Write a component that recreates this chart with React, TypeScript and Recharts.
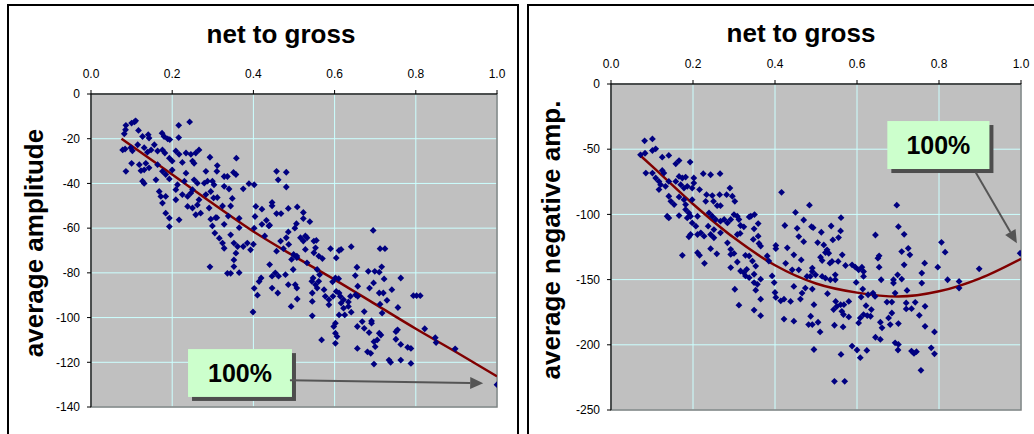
import { ComposedChart, Scatter, Line, XAxis, YAxis, CartesianGrid, ReferenceArea, ReferenceLine } from 'recharts';

// shared x ticks (net to gross)
const xTicks = [0, 0.2, 0.4, 0.6, 0.8, 1.0];
const ampTicks = [-140, -120, -100, -80, -60, -40, -20, 0];
const negTicks = [-250, -200, -150, -100, -50, 0];

// left panel: net to gross vs average amplitude
const ampPoints: [number, number][] = [
  [0.107, -12.5], [0.11, -12], [0.1, -13], [0.086, -14], [0.085, -16], [0.082, -17.8], [0.117, -16.3], [0.127, -19],
  [0.141, -18.2], [0.143, -19.7], [0.175, -17.5], [0.18, -19], [0.189, -20.1], [0.194, -20.4], [0.216, -14], [0.243, -12.5],
  [0.216, -19.5], [0.078, -25], [0.084, -24.6], [0.098, -24], [0.102, -25.4], [0.115, -22.7], [0.131, -24], [0.139, -26],
  [0.148, -25], [0.156, -22.7], [0.164, -25.5], [0.176, -25], [0.182, -26.4], [0.193, -28.7], [0.2, -30], [0.209, -25.5],
  [0.217, -27], [0.234, -26.4], [0.246, -27], [0.258, -26.4], [0.266, -25], [0.254, -31], [0.25, -30], [0.225, -30.6],
  [0.1, -31], [0.119, -31.6], [0.135, -31], [0.086, -34.6], [0.123, -34.3], [0.131, -33.9], [0.143, -33], [0.164, -31.6],
  [0.176, -34.6], [0.184, -36], [0.2, -34], [0.193, -38], [0.16, -38.4], [0.131, -40], [0.127, -39], [0.168, -43.6],
  [0.172, -45.8], [0.176, -48.8], [0.184, -45.8], [0.184, -53.3], [0.193, -55.5], [0.193, -59.3], [0.209, -42.8], [0.213, -40.6],
  [0.209, -47.3], [0.217, -56.3], [0.23, -39], [0.234, -35.4], [0.225, -45], [0.238, -45.8], [0.246, -44.3], [0.25, -42.8],
  [0.254, -38.4], [0.262, -39.9], [0.238, -50.3], [0.25, -51], [0.262, -49.6], [0.266, -47.3], [0.258, -54], [0.27, -53.3],
  [0.283, -34.6], [0.293, -28.3], [0.279, -39.9], [0.287, -39], [0.299, -39], [0.303, -40.6], [0.295, -43.6], [0.283, -45],
  [0.291, -51], [0.302, -46.5], [0.311, -32], [0.31, -34.6], [0.328, -36.9], [0.336, -36.9], [0.351, -35.1], [0.357, -36],
  [0.358, -28.7], [0.328, -41.3], [0.34, -42.5], [0.311, -46.3], [0.348, -46.7], [0.344, -50.1], [0.324, -50.1], [0.307, -55.3],
  [0.295, -56], [0.299, -59], [0.31, -55.3], [0.328, -58.3], [0.338, -54.6], [0.365, -55.6], [0.365, -59.8], [0.375, -42.4],
  [0.389, -40.1], [0.402, -40.6], [0.406, -50.3], [0.404, -54.8], [0.402, -60], [0.305, -62.2], [0.316, -64.5], [0.324, -66.7],
  [0.328, -69], [0.344, -63], [0.352, -66.7], [0.361, -68.2], [0.375, -68.2], [0.385, -66.7], [0.393, -69.7], [0.4, -67.2],
  [0.357, -71.2], [0.352, -74.2], [0.352, -77.2], [0.344, -80.2], [0.336, -80.2], [0.365, -79.9], [0.293, -77.3], [0.414, -83.9],
  [0.402, -86.9], [0.41, -90], [0.399, -97.5],
  [0.457, -34.6], [0.481, -35], [0.461, -38.4], [0.481, -41.6], [0.446, -48.5], [0.446, -50], [0.457, -53.5], [0.468, -53.5],
  [0.486, -51.2], [0.508, -50.5], [0.523, -53], [0.523, -55.7], [0.539, -57.1], [0.421, -51.5], [0.432, -56.5], [0.438, -59],
  [0.421, -58.3], [0.428, -63.5], [0.44, -58.7], [0.486, -61.7], [0.481, -64.3], [0.487, -67.3], [0.502, -60], [0.506, -58],
  [0.516, -64.3], [0.523, -65.8], [0.528, -63.5], [0.532, -64.3], [0.549, -65.8], [0.555, -65.5], [0.553, -68.8], [0.528, -69.5],
  [0.474, -69.2], [0.457, -70.3], [0.467, -65.8], [0.499, -71.8], [0.507, -72.5], [0.494, -74], [0.498, -78.5], [0.507, -73.2],
  [0.549, -71], [0.561, -72.5], [0.57, -73.6], [0.532, -75.5], [0.557, -78.5], [0.563, -80.8], [0.547, -82.3], [0.544, -83.8],
  [0.553, -85.3], [0.557, -86.8], [0.561, -83.8], [0.574, -87.5], [0.577, -90.5], [0.586, -94.3], [0.545, -89], [0.545, -92.8],
  [0.508, -91.7], [0.493, -95], [0.545, -99.2], [0.44, -76.3], [0.446, -81.5], [0.454, -80], [0.462, -81.5], [0.479, -80.8],
  [0.486, -85.3], [0.503, -85.3], [0.507, -86.8], [0.46, -89], [0.446, -86.8], [0.419, -82.3], [0.568, -110], [0.59, -69.2],
  [0.604, -73.3], [0.611, -70], [0.616, -69.5], [0.641, -68.3], [0.602, -82.3], [0.61, -82.6], [0.595, -84], [0.596, -90.5],
  [0.586, -92], [0.604, -88.3], [0.611, -89], [0.614, -90.5], [0.616, -93.5], [0.622, -92], [0.622, -95.8], [0.625, -98.8],
  [0.611, -98.8], [0.602, -102.5], [0.598, -104], [0.602, -107], [0.606, -108.5], [0.602, -111.5], [0.634, -93], [0.639, -90.5],
  [0.641, -97.6], [0.634, -95], [0.652, -89.8], [0.657, -90.5], [0.657, -86], [0.651, -81.2], [0.655, -77.5], [0.656, -104],
  [0.656, -113.8], [0.673, -97.3], [0.668, -101.8], [0.673, -104.8], [0.685, -106.7], [0.691, -101.5], [0.691, -102.5], [0.683, -79.3],
  [0.695, -61], [0.699, -79.3], [0.71, -79.7], [0.716, -77.3], [0.722, -82.7], [0.686, -86.8], [0.696, -84.5], [0.71, -89],
  [0.72, -89], [0.712, -94], [0.717, -98], [0.729, -92.3], [0.741, -87.5], [0.763, -82.3], [0.756, -95.5], [0.712, -69.2],
  [0.724, -69.2], [0.71, -107], [0.714, -107.8], [0.705, -110], [0.697, -110.8], [0.7, -113], [0.681, -115.3], [0.689, -116],
  [0.697, -120.8], [0.734, -119], [0.738, -120], [0.751, -106.3], [0.755, -105.5], [0.751, -109.7], [0.763, -112], [0.78, -113.3],
  [0.788, -113.8], [0.763, -119], [0.788, -120.5], [0.794, -90.2], [0.802, -90.2], [0.811, -90.2], [0.822, -105], [0.848, -109],
  [0.85, -111.2], [0.897, -114], [1.0, -130],
];
const ampTrendX = [0.075, 0.2, 0.3, 0.4, 0.5, 0.6, 0.7, 0.8, 0.9, 1.0];
const ampTrendY = [-20, -36, -49, -61.5, -72.5, -83, -94, -105, -115.5, -126.3];

// right panel: net to gross vs average negative amplitude
const negPoints: [number, number][] = [
  [0.082, -43.6], [0.101, -42.1], [0.083, -53.1], [0.072, -54.3], [0.101, -51], [0.109, -49.7], [0.125, -56.1], [0.141, -54.8],
  [0.085, -68.3], [0.101, -68.3], [0.109, -72.1], [0.125, -66.3], [0.129, -68.3], [0.117, -74.7], [0.121, -77.2], [0.117, -81],
  [0.133, -78.5], [0.141, -74.7], [0.158, -61.2], [0.166, -58.7], [0.193, -59.9], [0.158, -74.7], [0.166, -70.9], [0.174, -72.1],
  [0.182, -71.4], [0.17, -77.2], [0.178, -79.8], [0.186, -78.5], [0.202, -72.1], [0.202, -76], [0.198, -79.8], [0.216, -81],
  [0.225, -68.8], [0.243, -69.6], [0.266, -68.8], [0.141, -86.1], [0.146, -90], [0.154, -92.5], [0.166, -86.6], [0.178, -88.7],
  [0.182, -92.5], [0.198, -88.7], [0.182, -96.3], [0.19, -98.9], [0.137, -101.4], [0.141, -102.7], [0.166, -100.9], [0.186, -102.7],
  [0.194, -101.4], [0.211, -101.4], [0.198, -106.5], [0.207, -109], [0.194, -115.4], [0.19, -117.2], [0.211, -115.4], [0.219, -114.1],
  [0.227, -116.7], [0.233, -84.9], [0.231, -90], [0.247, -85.6], [0.25, -90], [0.259, -93.3], [0.265, -84.9], [0.267, -93.3],
  [0.239, -98.9], [0.247, -101.4], [0.255, -103.9], [0.243, -115.4], [0.251, -117.9], [0.237, -109], [0.267, -105.2], [0.276, -103.9],
  [0.284, -106.5], [0.292, -103.9], [0.282, -84.9], [0.29, -79.8], [0.296, -86.1], [0.302, -90], [0.3, -100.1], [0.308, -101.4],
  [0.312, -103.9], [0.316, -108.5], [0.324, -109.5], [0.308, -115.4], [0.315, -114.6], [0.267, -114.1], [0.251, -111.6], [0.284, -121.8],
  [0.292, -126.8], [0.243, -126.3], [0.258, -130.2], [0.174, -131.4], [0.211, -129.4], [0.216, -131.4], [0.228, -137.5], [0.292, -130.7],
  [0.3, -129.9], [0.308, -136.5], [0.292, -140.8], [0.328, -131.4], [0.337, -101.9], [0.341, -101.4], [0.35, -100.1], [0.349, -111.1],
  [0.359, -107], [0.347, -119.2], [0.359, -116.7], [0.361, -122.3], [0.365, -124.3], [0.337, -131.9], [0.345, -135.8], [0.353, -139.6],
  [0.349, -145.9], [0.316, -143.4], [0.324, -144.7], [0.328, -147.2], [0.337, -148.5], [0.331, -142.1], [0.349, -152.3], [0.357, -153.6],
  [0.365, -149.7], [0.353, -158.1], [0.302, -157.4], [0.365, -165], [0.312, -169.6], [0.349, -173.4], [0.365, -177.7], [0.381, -131.9],
  [0.385, -135.8], [0.393, -147.2], [0.398, -152.3], [0.402, -123.8], [0.402, -126.3], [0.416, -83.1], [0.424, -108.5], [0.43, -125.6],
  [0.426, -137.5], [0.4, -159.9], [0.402, -163.7], [0.414, -166.3], [0.422, -165], [0.422, -180.3],
  [0.484, -92.9], [0.45, -98.5], [0.454, -110.7], [0.458, -117], [0.47, -104.3], [0.47, -120.9], [0.489, -109.4], [0.493, -110.2],
  [0.513, -113.7], [0.537, -108.9], [0.561, -102.5], [0.56, -112.7], [0.555, -117.8], [0.541, -119.6], [0.504, -121.6], [0.519, -123.4],
  [0.527, -127.2], [0.523, -129.3], [0.531, -129.8], [0.511, -132.8], [0.515, -135.4], [0.564, -131], [0.554, -136.1], [0.572, -139.2],
  [0.539, -136.1], [0.534, -137.4], [0.446, -131], [0.464, -134.9], [0.442, -142.5], [0.458, -142.5], [0.491, -141.2], [0.491, -143.8],
  [0.499, -146.3], [0.486, -147.6], [0.478, -147.6], [0.515, -147.6], [0.523, -148.9], [0.535, -150.1], [0.547, -146.3], [0.547, -150.1],
  [0.446, -155.2], [0.474, -156.5], [0.466, -160.3], [0.491, -157.3], [0.462, -164.9], [0.438, -166.7], [0.495, -169.2], [0.528, -160.8],
  [0.548, -166.7], [0.551, -170.5], [0.56, -169.2], [0.563, -174.3], [0.567, -176.8], [0.58, -166.7], [0.568, -169.2], [0.543, -173],
  [0.487, -178.1], [0.505, -182.7], [0.482, -184.5], [0.491, -184.5], [0.51, -190.1], [0.545, -185], [0.566, -186.3], [0.58, -178.6],
  [0.446, -181.9], [0.495, -203.6], [0.561, -207.4], [0.545, -228], [0.57, -228], [0.588, -201], [0.6, -204], [0.608, -209.9],
  [0.624, -204.3], [0.588, -138.7], [0.596, -140.5], [0.604, -142.5], [0.612, -140.5], [0.616, -147.6], [0.616, -143.8], [0.598, -152.2],
  [0.614, -157.3], [0.61, -163.4], [0.627, -161.6], [0.639, -160.3], [0.644, -162.9], [0.622, -170], [0.635, -173], [0.625, -177.6],
  [0.633, -178.1], [0.616, -176.8], [0.604, -183.2], [0.608, -179.4], [0.645, -115.8], [0.654, -131.8], [0.651, -133.6], [0.654, -140.5],
  [0.659, -150.1], [0.697, -92.9], [0.701, -109.4], [0.715, -115.3], [0.709, -128.5], [0.725, -126], [0.729, -131], [0.715, -138.7],
  [0.699, -146.3], [0.689, -150.1], [0.689, -152.7], [0.693, -160.3], [0.709, -149.6], [0.722, -158.3], [0.673, -167.2], [0.685, -167.2],
  [0.657, -182.7], [0.661, -187], [0.677, -179.4], [0.685, -175.6], [0.681, -184.5], [0.701, -183.7], [0.693, -198.5], [0.701, -199.7],
  [0.7, -204], [0.657, -195.9], [0.645, -194.2], [0.72, -172.5], [0.72, -167.9], [0.733, -172.3], [0.733, -204.8], [0.739, -206.6],
  [0.745, -205.3], [0.756, -219.6], [0.742, -167.4], [0.752, -177.4], [0.758, -145], [0.758, -152.7], [0.765, -137.4], [0.766, -170.5],
  [0.766, -185.8], [0.789, -190.1], [0.781, -202.3], [0.789, -206.9], [0.797, -140.5], [0.806, -121.4], [0.815, -129], [0.821, -150.1],
  [0.849, -151.4], [0.849, -156.5], [0.898, -141.7], [0.998, -129.8],
];
const negTrendX = [0.072, 0.1, 0.2, 0.3, 0.4, 0.5, 0.6, 0.7, 0.8, 0.9, 1.0];
const negTrendY = [-55, -63, -92, -118, -139, -153, -160, -163, -159, -149, -134];

const toXY = (pts: [number, number][]) => pts.map(([x, y]) => ({ x, y }));
const zipXY = (xs: number[], ys: number[]) => xs.map((x, i) => ({ x, y: ys[i] }));

const FONT = 'Arial, "Liberation Sans", sans-serif';

const Diamond = (props: any) => {
  const { cx, cy } = props;
  const r = 3.4;
  if (cx == null || cy == null) return null;
  return <polygon points={`${cx},${cy - r} ${cx + r},${cy} ${cx},${cy + r} ${cx - r},${cy}`} fill="#000080" />;
};

const Callout = (props: any) => {
  const { x, y, width, height } = props;
  return (
    <g>
      <rect x={x + 4} y={y + 4} width={width} height={height} fill="#4D4D4D" />
      <rect x={x} y={y} width={width} height={height} fill="#CCFFCC" />
      <text x={x + width / 2} y={y + height / 2 + 9} textAnchor="middle" fontFamily={FONT} fontWeight="bold" fontSize={25} fill="#000">
        100%
      </text>
    </g>
  );
};

const Arrow = (props: any) => {
  const { x1, y1, x2, y2 } = props;
  const a = Math.atan2(y2 - y1, x2 - x1);
  const len = 13;
  const hw = 6;
  const bx = x2 - len * Math.cos(a);
  const by = y2 - len * Math.sin(a);
  return (
    <g>
      <line x1={x1} y1={y1} x2={bx} y2={by} stroke="#555" strokeWidth={2} />
      <polygon
        points={`${x2},${y2} ${bx - hw * Math.sin(a)},${by + hw * Math.cos(a)} ${bx + hw * Math.sin(a)},${by - hw * Math.cos(a)}`}
        fill="#555"
      />
    </g>
  );
};

interface PanelProps {
  width: number;
  margin: { top: number; right: number; bottom: number; left: number };
  yTicks: number[];
  points: [number, number][];
  trend: { x: number; y: number }[];
  box: [number, number, number, number];
  arrow: [number, number, number, number];
}

function Panel({ width, margin, yTicks, points, trend, box, arrow }: PanelProps) {
  const tick = { fill: '#000', fontSize: 12, fontFamily: FONT };
  const yMin = yTicks[0];
  return (
    <ComposedChart width={width} height={434} margin={margin}>
      <CartesianGrid stroke="#CCFFFF" fill="#C0C0C0" fillOpacity={1} />
      <ReferenceArea x1={0} x2={1} y1={yMin} y2={0} fill="none" stroke="#808080" strokeWidth={1.5} />
      <XAxis
        type="number"
        dataKey="x"
        orientation="top"
        domain={[0, 1]}
        ticks={xTicks}
        tickFormatter={(v) => Number(v).toFixed(1)}
        tick={tick}
        tickSize={4}
        tickMargin={12}
        height={30}
        stroke="#000"
        allowDataOverflow
      />
      <YAxis
        type="number"
        dataKey="y"
        domain={[yMin, 0]}
        ticks={yTicks}
        tick={tick}
        tickSize={4}
        tickMargin={7}
        width={50}
        stroke="#000"
        allowDataOverflow
      />
      <Scatter data={toXY(points)} dataKey="y" shape={Diamond} isAnimationActive={false} />
      <Line data={trend} dataKey="y" type="monotone" stroke="#800000" strokeWidth={2.5} dot={false} isAnimationActive={false} />
      <ReferenceArea x1={box[0]} x2={box[1]} y1={box[2]} y2={box[3]} shape={Callout} ifOverflow="visible" />
      <ReferenceLine
        segment={[{ x: arrow[0], y: arrow[1] }, { x: arrow[2], y: arrow[3] }]}
        shape={Arrow}
        ifOverflow="visible"
      />
    </ComposedChart>
  );
}

export default function App() {
  const titleStyle = { fontFamily: FONT, fontWeight: 'bold' as const, fontSize: 26 };
  return (
    <div style={{ position: 'absolute', left: 0, top: 0, width: 1034, height: 434, overflow: 'hidden', background: '#fff' }}>
      <div style={{ position: 'absolute', left: 7, top: 4, width: 512, height: 460, border: '2px solid #000', boxSizing: 'border-box' }} />
      <div style={{ position: 'absolute', left: 527, top: 4, width: 540, height: 460, border: '2px solid #000', boxSizing: 'border-box' }} />
      <div style={{ position: 'absolute', left: 0, top: 0 }}>
        <Panel
          width={520}
          margin={{ top: 64, right: 23, bottom: 27, left: 41 }}
          yTicks={ampTicks}
          points={ampPoints}
          trend={zipXY(ampTrendX, ampTrendY)}
          box={[0.239, 0.495, -135.5, -114.1]}
          arrow={[0.49, -128, 0.966, -129.4]}
        />
      </div>
      <div style={{ position: 'absolute', left: 520, top: 0 }}>
        <Panel
          width={514}
          margin={{ top: 54, right: 13, bottom: 24, left: 41 }}
          yTicks={negTicks}
          points={negPoints}
          trend={zipXY(negTrendX, negTrendY)}
          box={[0.674, 0.923, -65.2, -28.4]}
          arrow={[0.889, -67.5, 0.99, -122.2]}
        />
      </div>
      <svg width={1034} height={434} style={{ position: 'absolute', left: 0, top: 0, pointerEvents: 'none' }}>
        <text x={281} y={43} textAnchor="middle" {...titleStyle}>net to gross</text>
        <text x={801} y={42} textAnchor="middle" {...titleStyle}>net to gross</text>
        <text transform="translate(43,243) rotate(-90)" textAnchor="middle" {...titleStyle}>average amplitude</text>
        <text transform="translate(560,240) rotate(-90)" textAnchor="middle" {...titleStyle}>average negative amp.</text>
      </svg>
    </div>
  );
}
